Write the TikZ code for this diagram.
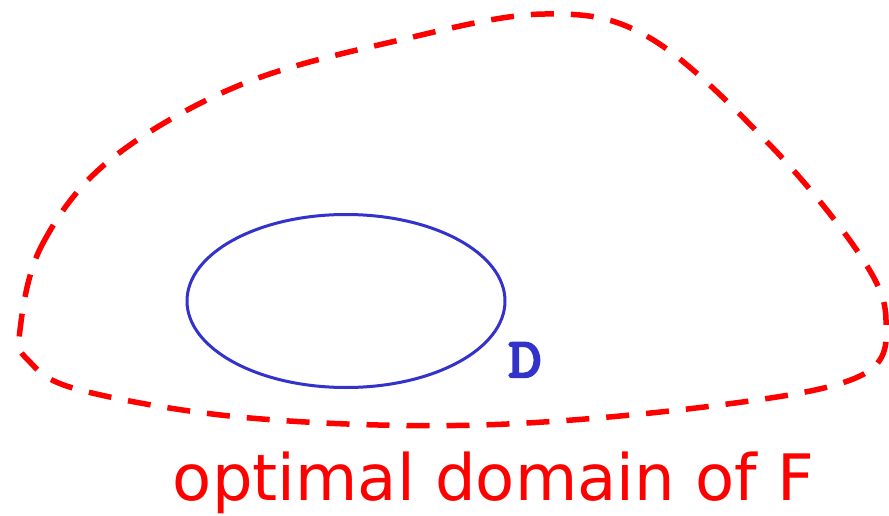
\documentclass[tikz,border=0pt]{standalone}
\usepackage{fontspec}
\usepackage{graphicx}
\setmainfont{DejaVu Sans}
\newfontfamily\dfont[FakeBold=4]{Latin Modern Mono}
\usetikzlibrary{shapes.geometric}
\definecolor{dred}{RGB}{255,0,0}
\definecolor{eblue}{RGB}{51,51,204}
\tikzset{
  domainline/.style={draw=dred, line width=5.5pt, dash pattern=on 23pt off 17pt},
  setline/.style={draw=eblue, line width=3pt},
}
\begin{document}
\begin{tikzpicture}[x=1pt,y=-1pt]
\useasboundingbox (0,0) rectangle (889,516);
\draw[domainline] plot[smooth cycle, tension=0.6] coordinates {
  (20,330) (42,245) (110,160) (240,85) (400,40) (545,14) (650,38) (770,145)
  (860,255) (886,320) (862,375) (720,405) (480,425) (250,418) (80,390) (28,360)};
\node[setline, ellipse, minimum width=318pt, minimum height=173pt, inner sep=0pt] (D) at (346,301) {};
\node[anchor=base, text=eblue, font=\dfont\fontsize{56}{60}\selectfont, inner sep=0pt] (Dlabel) at (525,377) {\scalebox{1.15}[1]{D}};
\node[anchor=base, text=dred, font=\fontsize{64}{70}\selectfont, inner sep=0pt] (F) at (493.5,500) {optimal domain of F};
\end{tikzpicture}
\end{document}
